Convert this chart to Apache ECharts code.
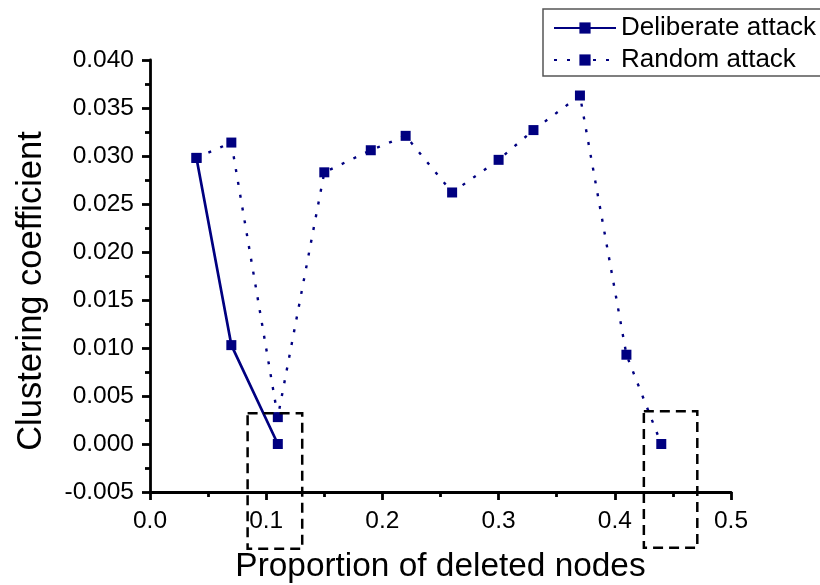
<!DOCTYPE html>
<html>
<head>
<meta charset="utf-8">
<script src="https://cdn.jsdelivr.net/npm/echarts@6/dist/echarts.min.js"></script>
<style>
  html, body { margin: 0; padding: 0; background: #fff; }
  #chart { width: 820px; height: 585px; }
</style>
</head>
<body>
<div id="chart"></div>
<script>
// Proportion of deleted nodes (x) for each attack strategy
const deliberateX = [0.04, 0.07, 0.11];
const deliberateY = [0.0298, 0.0103, 0.0];

const randomX = [0.04, 0.07, 0.11, 0.15, 0.19, 0.22, 0.26, 0.30, 0.33, 0.37, 0.41, 0.44];
const randomY = [0.0298, 0.0314, 0.0028, 0.0283, 0.0306, 0.0321, 0.0262, 0.0296, 0.0327, 0.0363, 0.0093, 0.0];

// Highlight boxes around the collapse points: [xFrom, xTo, yFrom, yTo]
const highlightBoxes = [
  [0.084, 0.131, -0.0109, 0.0032],
  [0.425, 0.471, -0.0108, 0.0034]
];

const seriesNames = ['Deliberate attack', 'Random attack'];

const FONT = 'Liberation Sans, Arial, sans-serif';
const NAVY = '#000080';

const zip = (xs, ys) => xs.map((x, i) => [x, ys[i]]);

const chart = echarts.init(document.getElementById('chart'), null, { renderer: 'canvas' });

chart.setOption({
  animation: false,
  backgroundColor: '#fff',
  grid: { left: 150, right: 89, top: 60, bottom: 93, containLabel: false, outerBoundsMode: 'none' },
  legend: {
    data: seriesNames,
    orient: 'vertical',
    align: 'left',
    left: 543,
    top: 9,
    padding: [6, 30, 3, 10],
    itemGap: 6,
    itemWidth: 62,
    itemHeight: 14,
    borderColor: '#555',
    borderWidth: 1.5,
    textStyle: { fontFamily: FONT, fontSize: 26, color: '#000', lineHeight: 26 }
  },
  xAxis: {
    type: 'value',
    min: 0,
    max: 0.5,
    interval: 0.1,
    name: 'Proportion of deleted nodes',
    nameLocation: 'middle',
    nameGap: 58,
    nameTextStyle: { fontFamily: FONT, fontSize: 33.4, color: '#000' },
    axisLine: { show: true, onZero: false, lineStyle: { color: '#000', width: 2.8 } },
    axisTick: { show: true, inside: false, length: 8, lineStyle: { color: '#000', width: 2.8 } },
    minorTick: { show: true, splitNumber: 2, length: 5, lineStyle: { color: '#000', width: 2.8 } },
    axisLabel: {
      margin: 17,
      fontFamily: FONT, fontSize: 24.5, color: '#000',
      formatter: v => v.toFixed(1)
    },
    splitLine: { show: false }
  },
  yAxis: {
    type: 'value',
    min: -0.005,
    max: 0.040,
    interval: 0.005,
    name: 'Clustering coefficient',
    nameLocation: 'middle',
    nameGap: 101,
    nameTextStyle: { fontFamily: FONT, fontSize: 34.5, color: '#000', padding: [0, 30, 0, 0] },
    axisLine: { show: true, onZero: false, lineStyle: { color: '#000', width: 2.8 } },
    axisTick: { show: true, inside: false, length: 8, lineStyle: { color: '#000', width: 2.8 } },
    minorTick: { show: true, splitNumber: 2, length: 5, lineStyle: { color: '#000', width: 2.8 } },
    axisLabel: {
      margin: 16,
      fontFamily: FONT, fontSize: 24.5, color: '#000',
      formatter: v => v.toFixed(3)
    },
    splitLine: { show: false }
  },
  series: [
    {
      name: seriesNames[0],
      type: 'line',
      data: zip(deliberateX, deliberateY),
      symbol: 'rect',
      symbolSize: 10,
      itemStyle: { color: NAVY },
      lineStyle: { color: NAVY, width: 2.7, type: 'solid' },
      z: 3
    },
    {
      name: seriesNames[1],
      type: 'line',
      data: zip(randomX, randomY),
      symbol: 'rect',
      symbolSize: 10,
      itemStyle: { color: NAVY },
      lineStyle: { color: NAVY, width: 2.4, type: [3, 10] },
      z: 2
    },
    {
      name: 'highlight',
      type: 'custom',
      silent: true,
      clip: false,
      z: 4,
      data: highlightBoxes,
      renderItem: (params, api) => {
        const p0 = api.coord([api.value(0), api.value(3)]);
        const p1 = api.coord([api.value(1), api.value(2)]);
        return {
          type: 'rect',
          shape: { x: p0[0], y: p0[1], width: p1[0] - p0[0], height: p1[1] - p0[1] },
          style: { fill: 'none', stroke: '#000', lineWidth: 2.5, lineDash: [10, 6] }
        };
      }
    }
  ]
});
</script>
</body>
</html>
